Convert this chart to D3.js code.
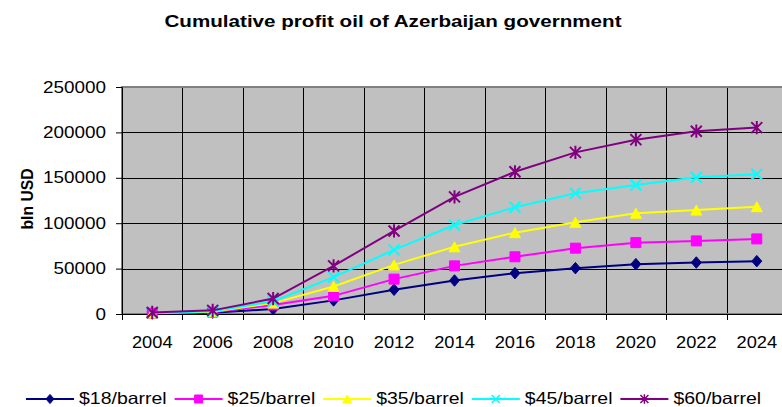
<!DOCTYPE html>
<html>
<head>
<meta charset="utf-8">
<script src="https://cdn.jsdelivr.net/npm/d3@7"></script>
<style>
  body { margin: 0; background: #fff; }
  text { font-family: "Liberation Sans", Arial, sans-serif; fill: #000; }
</style>
</head>
<body>
<div class="canvas"></div>
<script>
// data
const years = ["2004", "2006", "2008", "2010", "2012", "2014", "2016", "2018", "2020", "2022", "2024"];
const p18 = [500, 1500, 5500, 15000, 26700, 36900, 45000, 50500, 54900, 56700, 58200];
const p25 = [800, 2000, 9900, 20000, 38400, 53000, 63000, 72500, 78600, 80500, 82700];
const p35 = [1000, 2500, 12000, 30300, 54100, 74000, 89600, 101000, 111000, 114500, 118200];
const p45 = [1200, 3000, 13800, 40600, 70600, 98000, 117500, 133000, 142000, 150500, 154000];
const p60 = [1700, 4000, 17000, 53000, 91500, 129000, 156600, 178000, 192000, 201300, 205300];
const seriesNames = ["$18/barrel", "$25/barrel", "$35/barrel", "$45/barrel", "$60/barrel"];
const yTicks = [0, 50000, 100000, 150000, 200000, 250000];

const series = [
  { name: seriesNames[0], values: p18, color: "#000080", marker: "diamond" },
  { name: seriesNames[1], values: p25, color: "#FF00FF", marker: "square" },
  { name: seriesNames[2], values: p35, color: "#FFFF00", marker: "triangle" },
  { name: seriesNames[3], values: p45, color: "#00FFFF", marker: "x" },
  { name: seriesNames[4], values: p60, color: "#800080", marker: "star" }
];

const dims = { width: 782, height: 407 };
const plot = { left: 122, right: 787, top: 87, bottom: 314 };

const svg = d3.select(".canvas")
  .append("svg")
  .attr("width", dims.width)
  .attr("height", dims.height);

const x = d3.scaleBand().domain(years).range([plot.left, plot.right]).padding(0);
const y = d3.scaleLinear().domain([0, 250000]).range([plot.bottom, plot.top]);

// the source text is a bit wider than the font, so stretch it sideways
const stretch = (sel, k) => sel.each(function () {
  const len = this.getComputedTextLength();
  d3.select(this).attr("textLength", len * k).attr("lengthAdjust", "spacingAndGlyphs");
});

// title
svg.append("text")
  .attr("x", 393).attr("y", 27)
  .attr("text-anchor", "middle")
  .attr("font-size", 17).attr("font-weight", "bold")
  .attr("textLength", 457).attr("lengthAdjust", "spacingAndGlyphs")
  .text("Cumulative profit oil of Azerbaijan government");

// plot background
svg.append("rect")
  .attr("x", plot.left).attr("y", plot.top)
  .attr("width", plot.right - plot.left).attr("height", plot.bottom - plot.top)
  .attr("fill", "#C0C0C0");

// gridlines
const grid = svg.append("g");
grid.selectAll("line.h")
  .data(yTicks.slice(1))
  .enter().append("line")
  .attr("x1", plot.left).attr("x2", plot.right)
  .attr("y1", d => Math.round(y(d)) + 0.5).attr("y2", d => Math.round(y(d)) + 0.5)
  .attr("stroke", "#000").attr("stroke-width", 1);
grid.selectAll("line.v")
  .data(years.slice(1))
  .enter().append("line")
  .attr("x1", d => Math.round(x(d)) + 0.5).attr("x2", d => Math.round(x(d)) + 0.5)
  .attr("y1", plot.top).attr("y2", plot.bottom)
  .attr("stroke", "#000").attr("stroke-width", 1);

// border
svg.append("rect")
  .attr("x", plot.left).attr("y", plot.top)
  .attr("width", plot.right - plot.left).attr("height", plot.bottom - plot.top)
  .attr("fill", "none").attr("stroke", "#808080").attr("stroke-width", 2);

// y axis
const yAxis = svg.append("g")
  .attr("transform", `translate(${plot.left},0)`)
  .call(d3.axisLeft(y).tickValues(yTicks).tickFormat(d3.format("d")).tickSize(6).tickPadding(10));
yAxis.select(".domain").attr("stroke", "#000");
yAxis.selectAll(".tick line").attr("stroke", "#000");
yAxis.selectAll("text").attr("font-size", 16).attr("font-family", null).call(stretch, 1.18);

// x axis: labels at band centres, tick marks at band edges
const xAxis = svg.append("g")
  .attr("transform", `translate(0,${plot.bottom})`)
  .call(d3.axisBottom(x).tickSize(0).tickPadding(23));
xAxis.select(".domain").attr("stroke", "#000");
xAxis.selectAll("text").attr("font-size", 16).attr("font-family", null).call(stretch, 1.14);
xAxis.selectAll("line.edge")
  .data(years)
  .enter().append("line")
  .attr("x1", d => Math.round(x(d)) + 0.5).attr("x2", d => Math.round(x(d)) + 0.5)
  .attr("y1", 0).attr("y2", 6)
  .attr("stroke", "#000");

// y label
svg.append("text")
  .attr("transform", "translate(27,199) rotate(-90)")
  .attr("text-anchor", "middle")
  .attr("dominant-baseline", "central")
  .attr("font-size", 17).attr("font-weight", "bold")
  .attr("textLength", 61).attr("lengthAdjust", "spacingAndGlyphs")
  .text("bln USD");

// markers
const markerPath = (type, s) => {
  switch (type) {
    case "diamond":
      return `M0,${-s * 1.15}L${s},0L0,${s * 1.15}L${-s},0Z`;
    case "square":
      return `M${-s},${-s}H${s}V${s}H${-s}Z`;
    case "triangle":
      return `M0,${-s}L${s * 1.1},${s}L${-s * 1.1},${s}Z`;
    case "x":
      return `M${-s},${-s}L${s},${s}M${s},${-s}L${-s},${s}`;
    case "star":
      return `M${-s},${-s}L${s},${s}M${s},${-s}L${-s},${s}M0,${-s * 1.2}V${s * 1.2}`;
    default:
      return "";
  }
};
const isStroke = t => t === "x" || t === "star";

const line = d3.line()
  .x((d, i) => x(years[i]) + x.bandwidth() / 2)
  .y(d => y(d));

series.forEach(s => {
  const g = svg.append("g");
  g.append("path")
    .attr("d", line(s.values))
    .attr("fill", "none")
    .attr("stroke", s.color)
    .attr("stroke-width", 2);
  g.selectAll("path.m")
    .data(s.values)
    .enter().append("path")
    .attr("transform", (d, i) => `translate(${x(years[i]) + x.bandwidth() / 2},${y(d)})`)
    .attr("d", markerPath(s.marker, isStroke(s.marker) ? 5.5 : 5))
    .attr("fill", isStroke(s.marker) ? "none" : s.color)
    .attr("stroke", s.color)
    .attr("stroke-width", isStroke(s.marker) ? 2 : 1);
});

// legend
const legend = svg.append("g").attr("transform", "translate(26,399)");
const items = legend.selectAll("g")
  .data(series)
  .enter().append("g")
  .attr("transform", (d, i) => `translate(${i * 148.6},0)`);
items.append("line")
  .attr("x1", 0).attr("x2", 48)
  .attr("stroke", d => d.color).attr("stroke-width", 2);
items.append("path")
  .attr("transform", "translate(24,0)")
  .attr("d", d => markerPath(d.marker, 4))
  .attr("fill", d => isStroke(d.marker) ? "none" : d.color)
  .attr("stroke", d => d.color)
  .attr("stroke-width", d => isStroke(d.marker) ? 1.5 : 1);
items.append("text")
  .attr("x", 53).attr("y", 5)
  .attr("font-size", 16.5)
  .text(d => d.name)
  .call(stretch, 1.18);
</script>
</body>
</html>
